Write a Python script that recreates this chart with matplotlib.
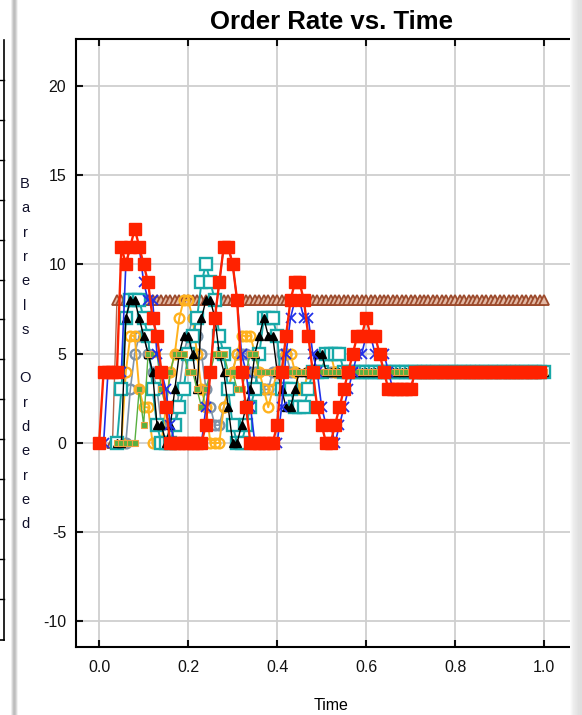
import numpy as np
import matplotlib
matplotlib.use("Agg")
import matplotlib.pyplot as plt
from matplotlib.lines import Line2D
from matplotlib.patches import Rectangle

plt.rcParams['font.family'] = ['Liberation Sans', 'DejaVu Sans']
plt.rcParams['axes.unicode_minus'] = False

# time grid of the simulation (dt = 0.01)
time = [i / 100 for i in range(101)]

# retailer / wholesaler orders start at t = 0, the rest at t = 0.04
red = ([0, 4, 4, 4, 4, 11, 10, 11, 12, 11, 10, 9, 7, 6, 4, 2,
        0, 0, 0, 0, 0, 0, 0, 0, 1, 4, 7, 9, 11, 11, 10, 8, 4, 2,
        0, 0, 0, 0, 0, 0, 1, 4, 6, 8, 9, 9, 8, 6, 4, 2, 1, 0, 0, 1, 2,
        3, 4, 5, 6, 6, 7, 6, 6, 5, 4, 3, 3, 3, 3, 3, 3] + [4] * 29)
blue = ([0, 0, 4, 4, 4, 4, 10, 11, 11, 11, 9, 8, 8, 5, 4, 3, 1, 0, 0, 0,
         0, 0, 0, 0, 2, 4, 7, 9, 11, 11, 10, 8, 5, 4, 2, 0, 0, 0, 0, 0,
         0, 2, 5, 7, 8, 8, 7, 7, 5, 4, 2, 1, 1, 0, 1, 2, 3, 4, 5, 5,
         6, 6, 5, 5, 5, 4, 3, 3, 3, 3, 3] + [4] * 29)
cyan = ([0, 3, 7, 8, 8, 8,
         7, 6, 3, 1, 0, 0, 0, 1, 2, 3,
         5, 6, 7, 9, 10, 9, 8, 6, 5, 3,
         1, 0, 0, 1, 2, 3, 5, 7, 7, 7,
         6, 3, 3, 3, 2, 2, 2, 3, 4, 4,
         4, 5, 5, 5, 5, 4, 4, 4, 4, 4] + [4] * 41)
black = ([0, 0, 7, 8, 8, 7,
          6, 5, 4, 1, 1, 0, 1, 3, 5, 6,
          6, 5, 3, 7, 8, 8, 7, 5, 4, 2,
          0, 0, 1, 2, 3, 5, 6, 7, 6, 6,
          4, 3, 2, 2, 3, 4, 4, 4, 4, 5,
          5, 4, 4, 4, 4, 4, 4, 4, 4, 4] + [4] * 41)
orange = ([0, 0, 4, 6, 6, 3,
           2, 2, 0, 0, 0, 2, 4, 5, 7, 8,
           8, 7, 5, 3, 2, 0, 0, 0, 2, 3,
           4, 5, 6, 6, 6, 5, 4, 3, 2, 3,
           4, 4, 5, 5, 4, 3, 3, 4, 4, 4,
           4, 5, 5, 4, 4, 4, 4, 4, 4, 4] + [4] * 41)
slate = ([0, 0, 0, 3, 5, 6,
          6, 5, 4, 3, 1, 0, 0, 1, 3, 5,
          6, 7, 6, 5, 3, 2, 1, 1, 2, 3,
          4, 5, 5, 5, 4, 4, 3, 3, 3, 4,
          4, 5, 5, 4, 4, 3, 3, 4, 4, 4] + [4] * 51)
green = ([0, 0, 0, 0, 0, 3,
          1, 5, 5, 5, 3, 2, 4, 5, 5, 5,
          4, 4, 3, 2, 3, 4, 5, 5, 5, 4,
          4, 3, 3, 4, 5, 5, 4, 4, 4, 4] + [4] * 61)
brown = [0] + [8] * 97

fig = plt.figure(figsize=(5.82, 7.15), dpi=100)
W, H = 582, 715

ax = fig.add_axes([76 / W, (H - 647) / H, 508 / W, 608 / H])
ax.set_xlim(-0.052, 1.0895)
ax.set_ylim(-11.43, 22.63)

ax.plot(time[3:], brown, color='#b5654a', lw=1.0, marker='^', ms=6.5,
        mfc='#e2b8a4', mec='#9c4a2c', mew=1.3, zorder=3)
ax.plot(time[4:], slate, color='#7f93a8', lw=1.2, marker='o', ms=7,
        mfc='none', mec='#7f93a8', mew=1.7, zorder=4)
ax.plot(time[4:], orange, color='#ffb21e', lw=1.4, marker='o', ms=7,
        mfc='none', mec='#ffb21e', mew=1.7, zorder=5)
ax.plot(time[4:], cyan, color='#18a8a8', lw=1.4, marker='s', ms=8,
        mfc='white', mec='#18a8a8', mew=1.7, zorder=6)
ax.plot(time[4:], black, color='black', lw=1.0, marker='^', ms=6,
        mfc='black', mec='black', zorder=7)
ax.plot(time[4:], green, color='#58b040', lw=1.0, marker='s', ms=5,
        mfc='#58b040', mec='#f0a040', mew=0.8, zorder=8)
ax.plot(time[:100], blue, color='#2030e8', lw=1.2, marker='x', ms=6.5,
        mew=1.3, zorder=9)
ax.plot(time[:100], red, color='#ff2200', lw=1.7, marker='s', ms=8.7,
        mfc='#ff2200', mec='#ff2200', zorder=10)

ax.set_xticks([0.0, 0.2, 0.4, 0.6, 0.8, 1.0])
ax.set_xticklabels(['0.0', '0.2', '0.4', '0.6', '0.8', '1.0'])
ax.set_yticks([-10, -5, 0, 5, 10, 15, 20])
ax.grid(True, color='#cfcfcf', lw=1.3)
ax.set_axisbelow(True)
ax.tick_params(direction='in', length=5, width=1.5, top=True, right=True,
               labelsize=11.5, colors='#111111', pad=9)
ax.tick_params(axis='y', pad=7)
for s in ax.spines.values():
    s.set_linewidth(1.5)

fig.text(331 / W, (H - 29) / H, 'Order Rate vs. Time', ha='center',
         va='baseline', fontsize=18.5, fontweight='bold')
fig.text(331 / W, (H - 705) / H, 'Time', ha='center', va='center',
         fontsize=11.5)

# y label written one letter per line
for k, ch in enumerate('Barrels Ordered'):
    if ch != ' ':
        fig.text(25 / W, (H - (184 + 24.3 * k)) / H, ch, ha='center',
                 va='center', fontsize=10.5, color='#10102a')

# edge of the neighbouring panel on the left
fig.add_artist(Line2D([4 / W, 4 / W], [(H - 40) / H, (H - 640) / H],
                      color='black', lw=1.2))
fig.add_artist(Line2D([0, 4 / W], [(H - 640) / H, (H - 640) / H],
                      color='black', lw=1.2))
for k in range(14):
    yy = (H - (80 + 39.9 * k)) / H
    fig.add_artist(Line2D([0, 4 / W], [yy, yy], color='black', lw=1.0))

# window shading strips, drawn as thin figure-level rectangles
left_shade = [0.93, 0.84, 0.76, 0.74, 0.78, 0.86, 0.95]
for k, g in enumerate(left_shade):
    fig.add_artist(Rectangle(((11 + k) / W, 0), 1 / W, 1, color=str(g),
                             lw=0, zorder=20))
right_shade = [0.99, 0.97, 0.95, 0.93, 0.92, 0.91, 0.90, 0.89, 0.88, 0.88,
               0.87, 0.87]
for k, g in enumerate(right_shade):
    fig.add_artist(Rectangle(((570 + k) / W, 0), 1 / W, 1, color=str(g),
                             lw=0, zorder=20))

fig.savefig('out.png', dpi=100)
